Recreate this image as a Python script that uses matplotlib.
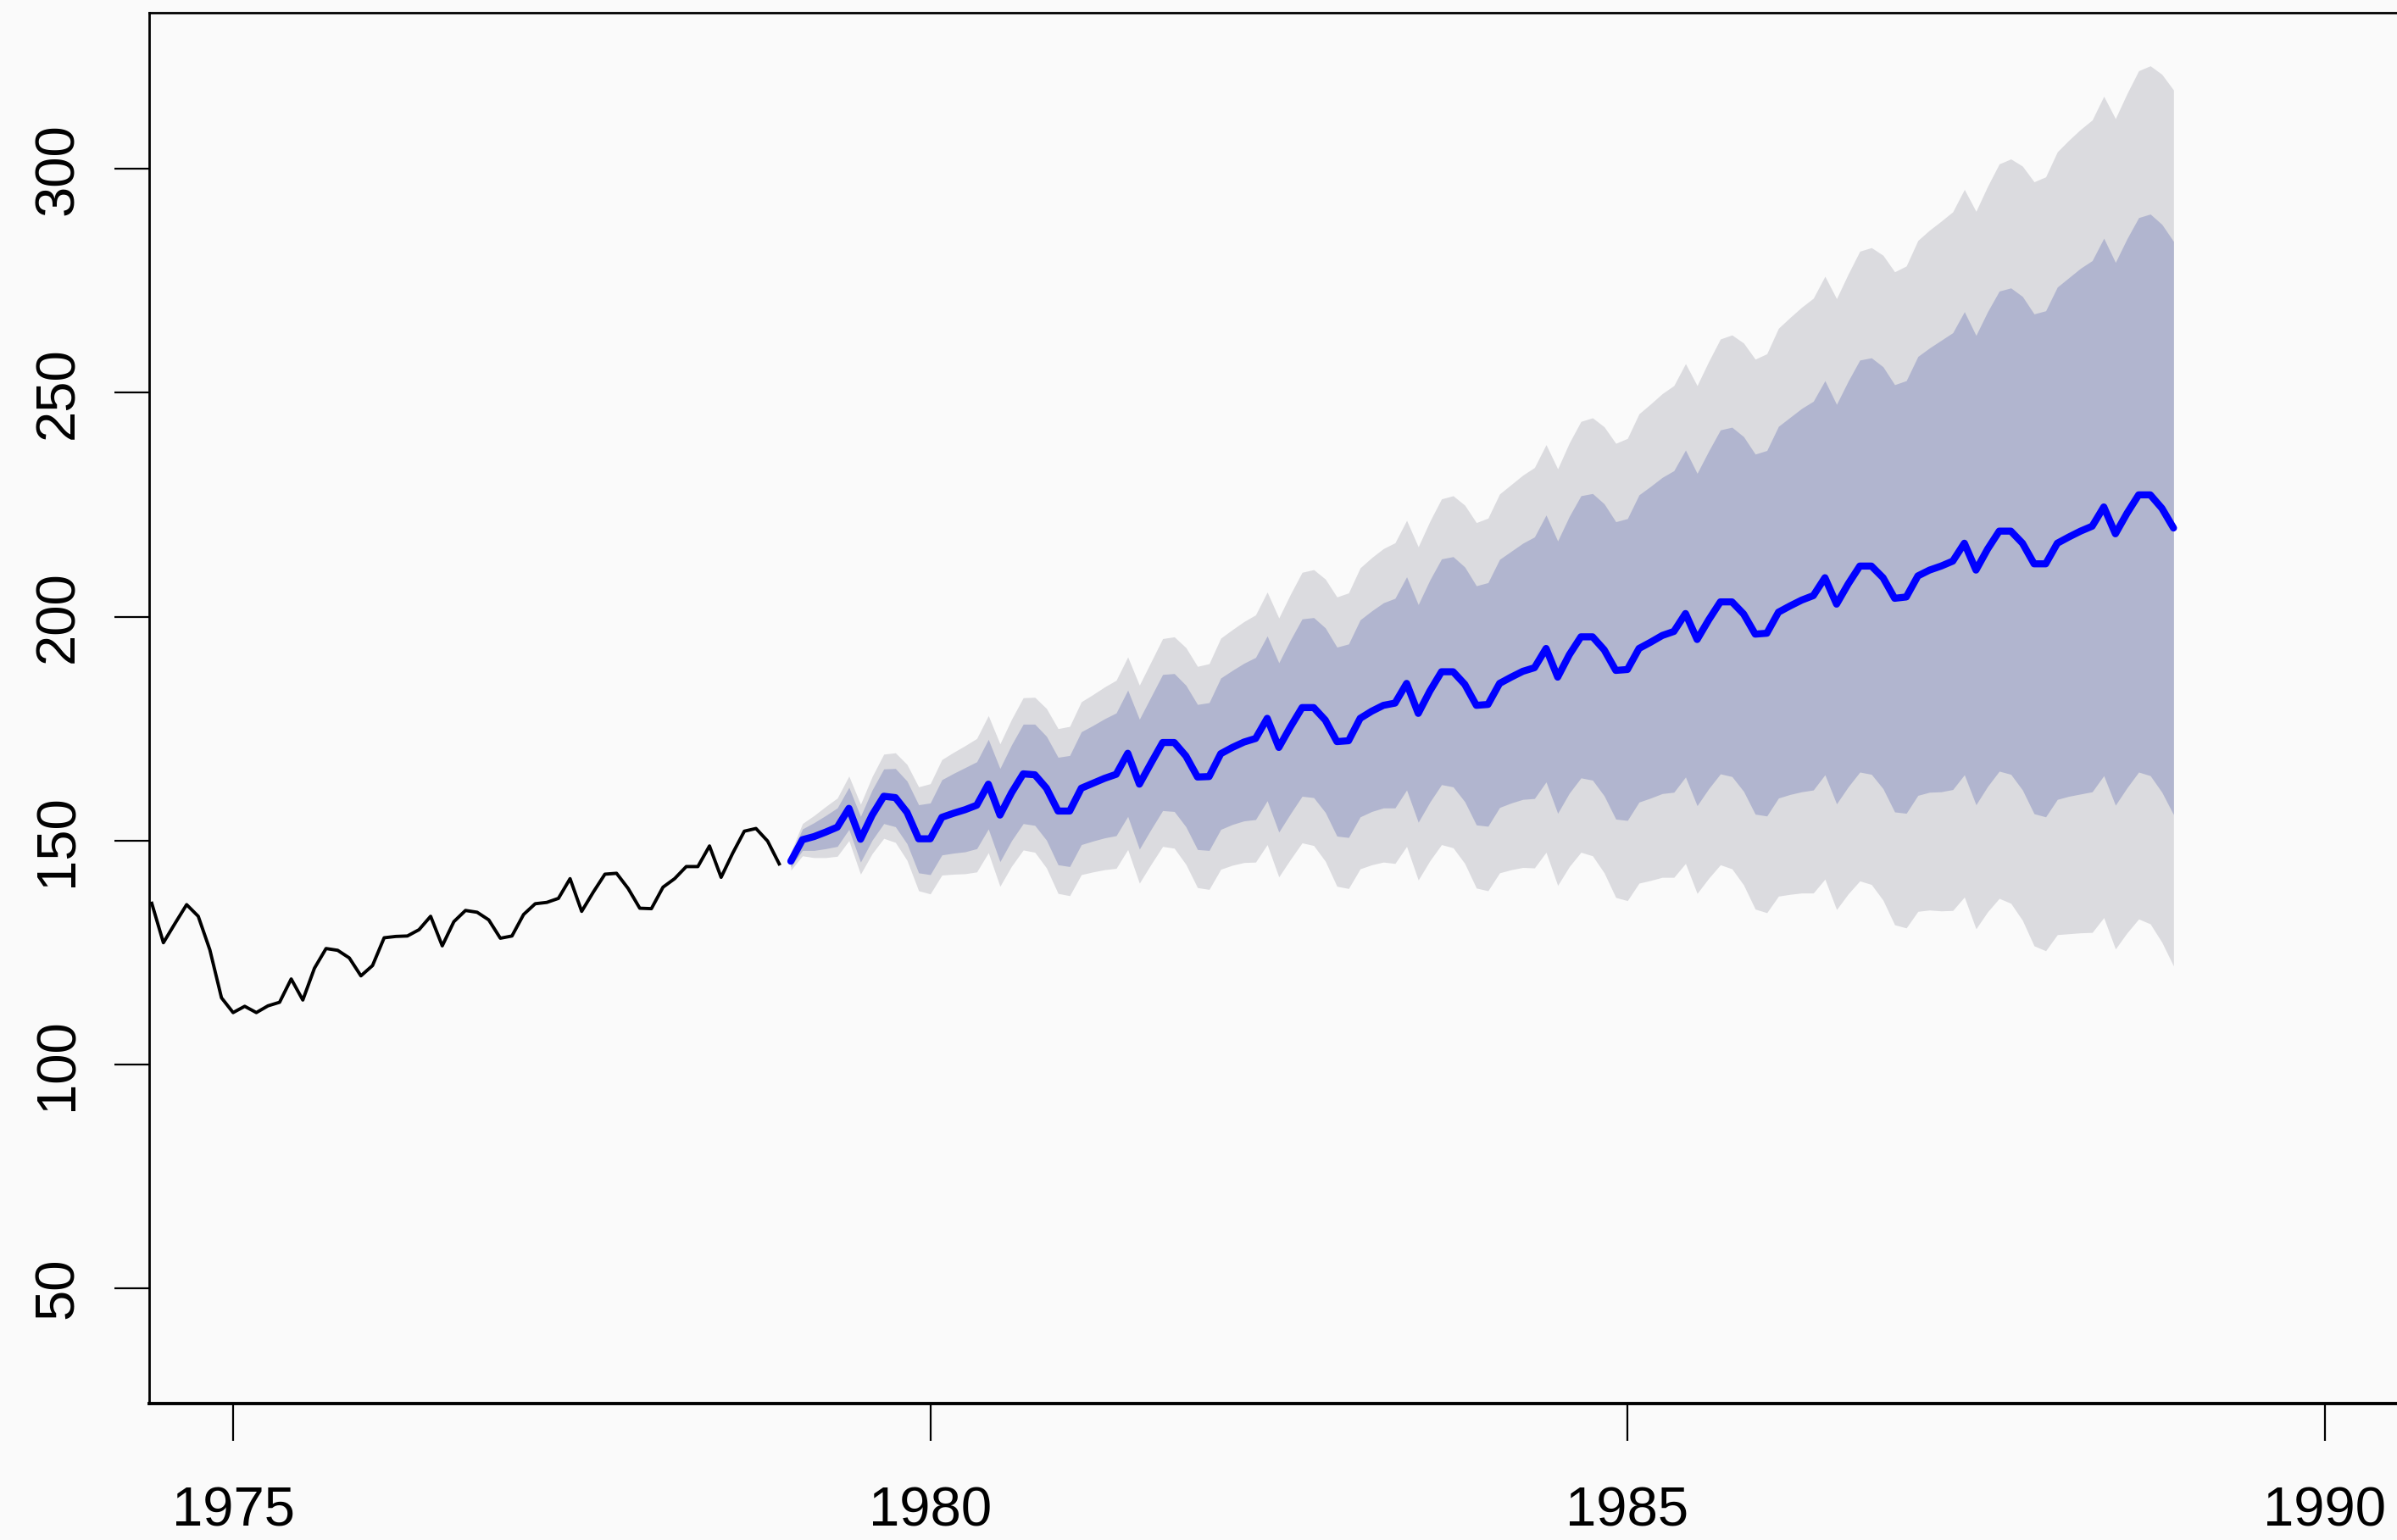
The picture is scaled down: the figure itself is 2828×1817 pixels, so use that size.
import numpy as np
import matplotlib
matplotlib.use("Agg")
import matplotlib.pyplot as plt

plt.rcParams['font.family'] = ['Liberation Sans', 'DejaVu Sans']

# observed monthly series, Jun 1974 - Dec 1978
hist_start = 1974 + 5/12
hist = [136.0, 127.2, 131.5, 135.7, 133.1, 125.6, 114.9, 111.6, 113.0, 111.6,
        113.1, 113.9, 119.1, 114.4, 121.5, 125.9, 125.5, 123.8, 119.8, 122.1,
        128.3, 128.6, 128.7, 130.1, 133.1, 126.5, 131.9, 134.4, 134.0, 132.3,
        128.2, 128.7, 133.5, 135.9, 136.2, 137.1, 141.5, 134.2, 138.5, 142.5,
        142.7, 139.3, 134.9, 134.8, 139.6, 141.5, 144.2, 144.2, 148.8, 141.8,
        147.2, 152.1, 152.7, 149.9, 144.8]

# point forecast, Jan 1979 - Dec 1988
fc_start = 1979.0
fc_mean = [145.4, 150.2, 150.9, 151.9, 153.0, 157.2, 150.3, 155.7, 159.9, 159.6, 156.3, 150.4,
           150.4, 155.2, 156.1, 156.9, 157.9, 162.6, 155.7, 160.7, 164.9, 164.7, 161.7, 156.6,
           156.6, 161.7, 162.8, 163.9, 164.8, 169.5, 162.6, 167.3, 171.9, 171.9, 168.9, 164.2,
           164.3, 169.4, 170.8, 172.0, 172.8, 177.3, 170.8, 175.4, 179.7, 179.7, 176.9, 172.1,
           172.3, 177.3, 178.9, 180.2, 180.7, 185.1, 178.4, 183.4, 187.7, 187.7, 184.9, 180.2,
           180.4, 185.1, 186.5, 187.8, 188.6, 192.9, 186.5, 191.5, 195.5, 195.5, 192.6, 188.0,
           188.2, 192.9, 194.3, 195.8, 196.7, 200.7, 194.9, 199.3, 203.3, 203.3, 200.6, 196.1,
           196.3, 201.0, 202.4, 203.7, 204.7, 208.7, 202.8, 207.3, 211.3, 211.3, 208.7, 204.1,
           204.4, 209.1, 210.4, 211.3, 212.4, 216.4, 210.4, 215.1, 219.1, 219.1, 216.4, 211.8,
           211.8, 216.4, 217.8, 219.1, 220.2, 224.5, 218.5, 223.1, 227.2, 227.2, 224.2, 219.8]

half95 = [2.0, 3.6, 4.7, 5.7, 6.5, 7.2, 7.8, 8.6, 9.4, 10.0, 10.7, 11.6,
          12.3, 12.9, 13.6, 14.3, 14.9, 15.3, 15.9, 16.4, 17.0, 17.3, 17.8, 18.4,
          18.9, 19.3, 19.8, 20.4, 21.0, 21.5, 22.1, 22.6, 23.2, 23.6, 24.2, 24.7,
          25.2, 25.8, 26.3, 26.9, 27.6, 28.2, 28.9, 29.6, 30.2, 30.8, 31.5, 32.3,
          33.0, 33.6, 34.3, 35.0, 35.8, 36.4, 37.2, 37.9, 38.6, 39.3, 40.0, 40.8,
          41.6, 42.3, 43.0, 43.8, 44.7, 45.5, 46.5, 47.3, 48.1, 48.9, 49.8, 50.7,
          51.6, 52.4, 53.2, 54.0, 54.9, 55.8, 56.7, 57.7, 58.7, 59.6, 60.5, 61.4,
          62.4, 63.4, 64.4, 65.4, 66.4, 67.3, 68.2, 69.2, 70.3, 71.1, 72.0, 72.9,
          73.9, 74.9, 75.9, 77.0, 78.0, 79.0, 80.1, 81.0, 82.0, 83.1, 84.2, 85.3,
          86.4, 87.4, 88.6, 89.7, 90.7, 91.7, 92.7, 93.7, 94.7, 95.8, 96.9, 97.8]
half80 = [1.3, 2.4, 3.1, 3.7, 4.3, 4.7, 5.1, 5.6, 6.1, 6.5, 7.0, 7.6,
          8.0, 8.4, 8.9, 9.4, 9.7, 10.0, 10.4, 10.7, 11.1, 11.3, 11.6, 12.0,
          12.4, 12.6, 12.9, 13.3, 13.7, 14.1, 14.5, 14.8, 15.2, 15.4, 15.8, 16.2,
          16.5, 16.9, 17.2, 17.6, 18.1, 18.4, 18.9, 19.4, 19.8, 20.1, 20.6, 21.1,
          21.6, 22.0, 22.4, 22.9, 23.4, 23.8, 24.3, 24.8, 25.2, 25.7, 26.2, 26.7,
          27.2, 27.7, 28.1, 28.6, 29.2, 29.8, 30.4, 30.9, 31.5, 32.0, 32.6, 33.2,
          33.7, 34.3, 34.8, 35.3, 35.9, 36.5, 37.1, 37.7, 38.4, 39.0, 39.6, 40.2,
          40.8, 41.5, 42.1, 42.8, 43.4, 44.0, 44.6, 45.3, 46.0, 46.5, 47.1, 47.7,
          48.3, 49.0, 49.6, 50.4, 51.0, 51.7, 52.4, 53.0, 53.6, 54.3, 55.1, 55.8,
          56.5, 57.2, 57.9, 58.7, 59.3, 60.0, 60.6, 61.3, 61.9, 62.7, 63.4, 64.0]

xticks = [1975, 1980, 1985, 1990]
yticks = [50, 100, 150, 200, 250, 300]

t_hist = hist_start + np.arange(len(hist)) / 12
t_fc = fc_start + np.arange(len(fc_mean)) / 12
m = np.array(fc_mean)
w95 = np.array(half95)
w80 = np.array(half80)

bg = '#fafafa'
fig = plt.figure(figsize=(28.28, 18.17), dpi=100, facecolor=bg)
ax = fig.add_axes([0.06223, 0.08861, 0.96322, 0.90297])
ax.set_facecolor(bg)

ax.fill_between(t_fc, m - w95, m + w95, color='#dbdbdf', lw=0)
ax.fill_between(t_fc, m - w80, m + w80, color='#b1b5cf', lw=0)
ax.plot(t_hist, hist, color='black', lw=2.8, solid_joinstyle='round')
ax.plot(t_fc, m, color='#0000ff', lw=6.0, solid_joinstyle='round', solid_capstyle='round')

ax.set_xlim(1974.398, 1990.957)
ax.set_ylim(24.3, 334.8)
ax.set_xticks(xticks)
ax.set_yticks(yticks)
ax.tick_params(axis='x', length=32, width=1.6, pad=38, labelsize=47)
ax.tick_params(axis='y', length=29.5, width=1.6, pad=26, labelsize=47, labelrotation=90)
for lab in ax.get_yticklabels():
    lab.set_va('center')

for s in ax.spines.values():
    s.set_linewidth(2.0)
ax.spines['bottom'].set_linewidth(2.8)

fig.savefig('out.png', dpi=100, facecolor=bg)
